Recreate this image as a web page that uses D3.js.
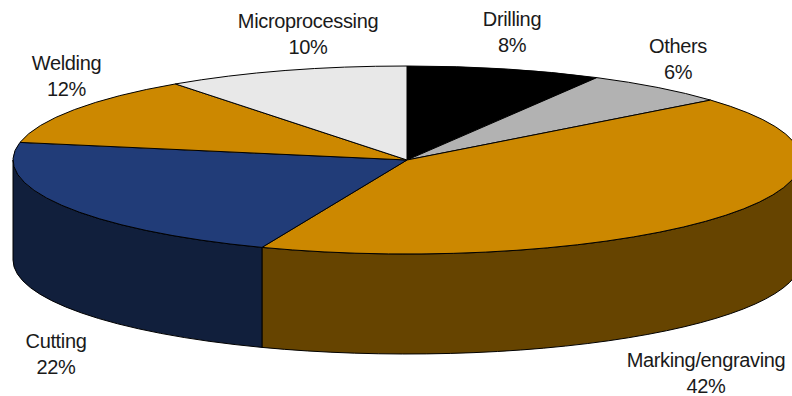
<!DOCTYPE html>
<html>
<head>
<meta charset="utf-8">
<script src="https://cdn.jsdelivr.net/npm/d3@7"></script>
<style>
  html, body { margin: 0; padding: 0; background: #fff; overflow: hidden; }
  svg { display: block; }
  text { font-family: "Liberation Sans", Arial, sans-serif; font-size: 20px; letter-spacing: -0.35px; fill: #1a1a1a; text-anchor: middle; }
</style>
</head>
<body>
<script>
// Laser application shares, clockwise from twelve o'clock
const categories = ["Drilling", "Others", "Marking/engraving", "Cutting", "Welding", "Microprocessing"];
const shares = [8, 6, 42, 22, 12, 10];
const topColors = ["#000000", "#b2b2b2", "#cc8800", "#213c78", "#cc8800", "#e8e8e8"];
const wallColors = ["#000000", "#595959", "#664400", "#111f3c", "#664400", "#747474"];
const labelAnchors = [[512, 25.5], [678, 53], [706, 366.5], [56, 347.5], [66.5, 69.5], [308, 28]];

const width = 792, height = 396;
const cx = 407, cy = 160, rx = 394, ry = 94, depth = 100;

const svg = d3.select("body").append("svg").attr("width", width).attr("height", height);

const pie = d3.pie().value(d => d).sort(null)(shares);

// Tilted-disc projection: angle measured clockwise from north
const px = a => cx + rx * Math.sin(a);
const py = (a, drop = 0) => cy - ry * Math.cos(a) + drop;

// Rim of the disc is visible only on the near half, between 90 and 270 degrees
const wallPath = (a0, a1) => {
  const s = Math.max(a0, Math.PI / 2), e = Math.min(a1, 3 * Math.PI / 2);
  if (e <= s) return null;
  return `M${px(s)},${py(s)}A${rx},${ry} 0 0 1 ${px(e)},${py(e)}` +
         `L${px(e)},${py(e, depth)}A${rx},${ry} 0 0 0 ${px(s)},${py(s, depth)}Z`;
};
const slicePath = (a0, a1) =>
  `M${cx},${cy}L${px(a0)},${py(a0)}A${rx},${ry} 0 ${a1 - a0 > Math.PI ? 1 : 0} 1 ${px(a1)},${py(a1)}Z`;

svg.append("g").selectAll("path")
  .data(pie.filter(d => wallPath(d.startAngle, d.endAngle)))
  .join("path")
  .attr("d", d => wallPath(d.startAngle, d.endAngle))
  .attr("fill", d => wallColors[d.index])
  .attr("stroke", "#000").attr("stroke-width", 1).attr("stroke-linejoin", "round");

svg.append("g").selectAll("path")
  .data(pie)
  .join("path")
  .attr("d", d => slicePath(d.startAngle, d.endAngle))
  .attr("fill", d => topColors[d.index])
  .attr("stroke", "#000").attr("stroke-width", 1).attr("stroke-linejoin", "round");

// Two-line labels: category name above its percentage
const labels = svg.append("g").selectAll("text")
  .data(categories)
  .join("text")
  .attr("transform", (d, i) => `translate(${labelAnchors[i][0]},${labelAnchors[i][1]})`);
labels.append("tspan").attr("x", 0).attr("y", 0).text(d => d);
labels.append("tspan").attr("x", 0).attr("y", 26).text((d, i) => shares[i] + "%");
</script>
</body>
</html>
